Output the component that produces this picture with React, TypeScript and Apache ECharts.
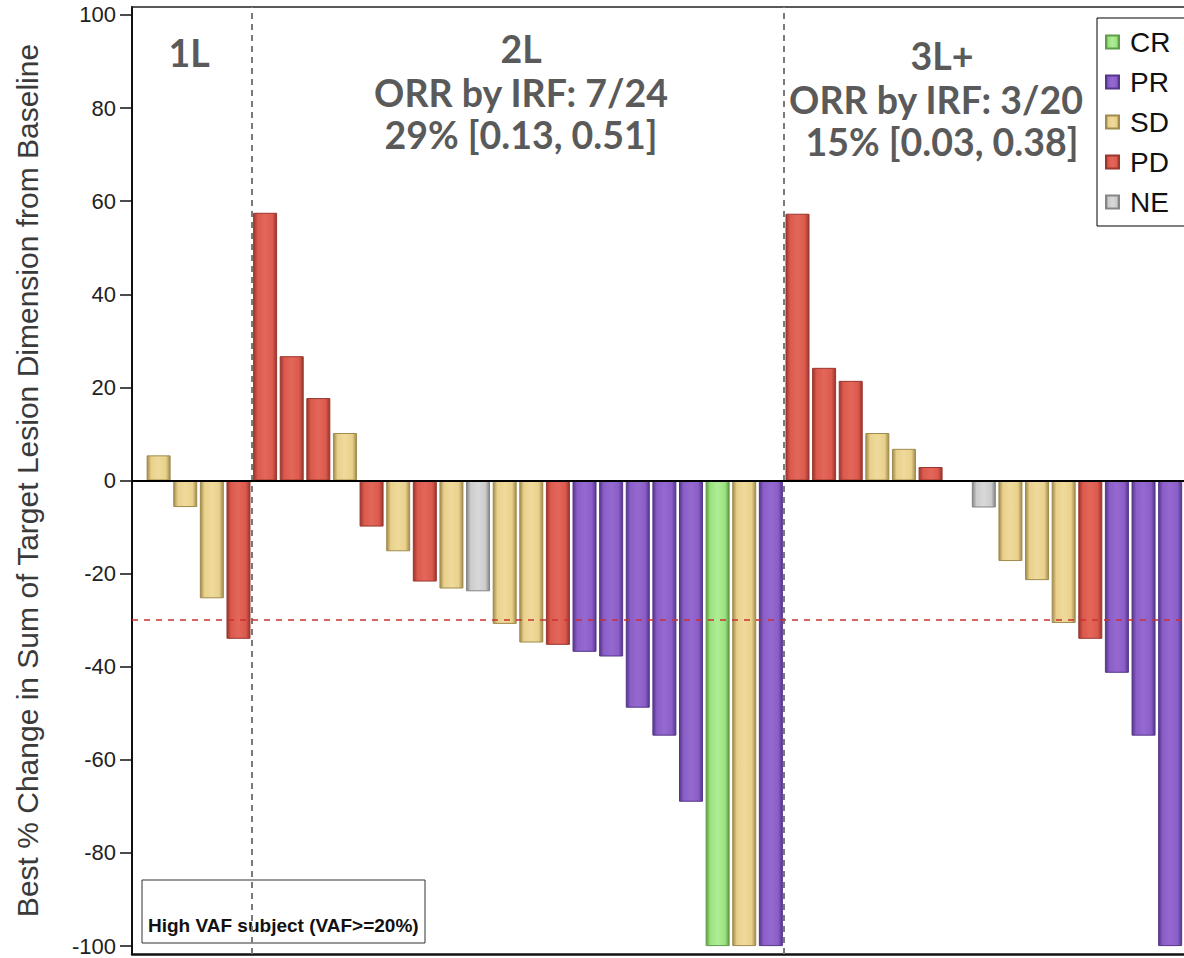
import React, { useEffect, useRef } from "react";
import * as echarts from "echarts";

// Subject positions along the x axis (one slot per subject)
const positions = [
  1, 2, 3, 4,
  5, 6, 7, 8, 9, 10, 11, 12, 13, 14, 15, 16, 17, 18, 19, 20, 21, 22, 23, 24,
  25, 26, 27, 28, 29, 30, 31, 32, 33, 34, 35, 36, 37, 38, 39,
];
// Best % change from baseline
const values: (number | null)[] = [
  5.4, -5.7, -25.3, -34,
  57.5, 26.7, 17.7, 10.2, -9.9, -15.2, -21.7, -23.2, -23.8, -30.8, -34.8, -35.3, -36.8, -37.8, -48.8, -54.8, -69.0, -100, -100, -100,
  57.3, 24.2, 21.4, 10.2, 6.8, 2.9, null, -5.8, -17.3, -21.4, -30.6, -34.0, -41.3, -54.8, -100,
];
// Best overall response
const responses = [
  "SD", "SD", "SD", "PD",
  "PD", "PD", "PD", "SD", "PD", "SD", "PD", "SD", "NE", "SD", "SD", "PD", "PR", "PR", "PR", "PR", "PR", "CR", "SD", "PR",
  "PD", "PD", "PD", "SD", "SD", "PD", "", "NE", "SD", "SD", "SD", "PD", "PR", "PR", "PR",
];
const statuses = ["CR", "PR", "SD", "PD", "NE"];
const statusColors: Record<string, [string, string, string]> = {
  CR: ["#5f9c4a", "#9be37f", "#b0ec98"],
  PR: ["#55368a", "#8a5ec8", "#9669d0"],
  SD: ["#a08b4e", "#e9d18b", "#efda9c"],
  PD: ["#9a362d", "#dc5a4d", "#e2675a"],
  NE: ["#858585", "#cccccc", "#d8d8d8"],
};
const yTicks = [-100, -80, -60, -40, -20, 0, 20, 40, 60, 80, 100];
const groupDividers = [4.5, 24.5];
const responseThreshold = -30;
const yTitle = "Best % Change in Sum of Target Lesion Dimension from Baseline";

const grad = (c: [string, string, string]) =>
  new echarts.graphic.LinearGradient(0, 0, 1, 0, [
    { offset: 0, color: c[0] },
    { offset: 0.18, color: c[1] },
    { offset: 0.5, color: c[2] },
    { offset: 0.82, color: c[1] },
    { offset: 1, color: c[0] },
  ]);

export default function App() {
  const ref = useRef<HTMLDivElement>(null);
  useEffect(() => {
    if (!ref.current) return;
    const chart = echarts.init(ref.current, null, { renderer: "svg" });

    const series: any[] = statuses.map((s, si) => {
      const data: [number, number][] = [];
      positions.forEach((p, i) => {
        if (responses[i] === s && values[i] !== null) data.push([p, values[i] as number]);
      });
      const base: any = {
        name: s,
        type: "bar",
        xAxisIndex: 0,
        data,
        barWidth: 24,
        barGap: "-100%",
        itemStyle: {
          color: grad(statusColors[s]),
          borderColor: statusColors[s][0],
          borderWidth: 1,
        },
      };
      if (si === 0) {
        base.markLine = {
          silent: true,
          symbol: "none",
          label: { show: false },
          z: 10,
          data: [
            ...groupDividers.map((d) => ({
              xAxis: d,
              lineStyle: { color: "#7a7a7a", width: 2, type: [6, 5] },
            })),
            {
              yAxis: responseThreshold,
              lineStyle: { color: "#cc3030", width: 1.6, type: [6, 6] },
            },
            {
              yAxis: 0,
              lineStyle: { color: "#000", width: 2, type: "solid" },
            },
          ],
        };
      }
      return base;
    });

    const groupFont = "bold 37.5px Lato";
    const gray = "#5a5a5a";
    const txt = (text: string, x: number, y: number) => ({
      type: "text",
      x,
      y,
      style: { text, fill: gray, font: groupFont, align: "center", verticalAlign: "middle" },
    });

    const hiddenX = {
      type: "value",
      min: 0,
      max: 39.52,
      axisTick: { show: false },
      axisLabel: { show: false },
      splitLine: { show: false },
    };

    chart.setOption({
      animation: false,
      grid: {
        left: 132,
        top: 7,
        right: 0,
        bottom: 4,
      },
      xAxis: [
        {
          ...hiddenX,
          position: "bottom",
          axisLine: { show: true, onZero: false, lineStyle: { color: "#111", width: 2.5 } },
        },
        {
          ...hiddenX,
          position: "top",
          axisLine: { show: true, onZero: false, lineStyle: { color: "#222", width: 1.5 } },
        },
      ],
      yAxis: {
        type: "value",
        min: -101.7,
        max: 101.7,
        name: yTitle,
        nameLocation: "middle",
        nameGap: 90,
        nameTextStyle: { fontFamily: "Liberation Sans", fontSize: 30, color: "#3a3a3a" },
        axisLine: { show: true, lineStyle: { color: "#111", width: 2 } },
        axisTick: {
          show: true,
          length: 12,
          customValues: yTicks,
          lineStyle: { color: "#111", width: 1.5 },
        },
        axisLabel: {
          customValues: yTicks,
          fontFamily: "Liberation Sans",
          fontSize: 22,
          color: "#222",
          margin: 16,
        },
        splitLine: { show: false },
      },
      legend: {
        orient: "vertical",
        left: 1097,
        top: 18,
        data: statuses,
        icon: "rect",
        itemWidth: 13,
        itemHeight: 13,
        itemGap: 12,
        padding: [10, 40, 10, 8],
        borderColor: "#000",
        borderWidth: 1,
        backgroundColor: "#fff",
        textStyle: {
          fontFamily: "Liberation Sans",
          fontSize: 28,
          color: "#111",
          lineHeight: 27,
          padding: [0, 0, 0, 6],
        },
      },
      graphic: [
        txt("1L", 189, 52),
        txt("2L", 521, 48),
        txt("ORR by IRF: 7/24", 521, 92),
        txt("29% [0.13, 0.51]", 521, 134),
        txt("3L+", 942, 55),
        txt("ORR by IRF: 3/20", 936, 99),
        txt("15% [0.03, 0.38]", 942, 141),
        {
          type: "rect",
          shape: { x: 142, y: 880, width: 283, height: 63 },
          style: { fill: "none", stroke: "#333", lineWidth: 1 },
        },
        {
          type: "text",
          x: 148,
          y: 925,
          style: {
            text: "High VAF subject (VAF>=20%)",
            fill: "#111",
            font: "bold 19px Liberation Sans",
            align: "left",
            verticalAlign: "middle",
          },
        },
      ],
      series,
    });
    return () => chart.dispose();
  }, []);
  return (
    <div
      ref={ref}
      style={{ position: "absolute", left: 0, top: 0, width: 1184, height: 958, background: "#fff" }}
    />
  );
}
